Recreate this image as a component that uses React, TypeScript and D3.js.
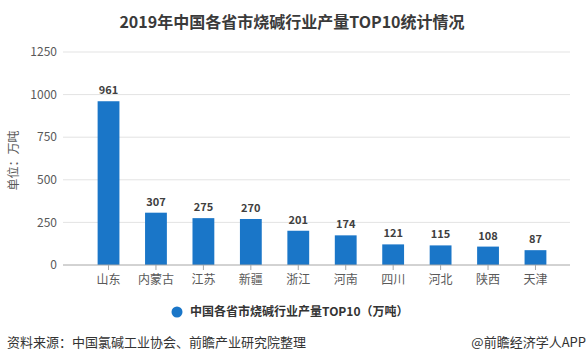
import React, { useEffect, useRef } from "react";
import * as d3 from "d3";

const provinces = ["山东", "内蒙古", "江苏", "新疆", "浙江", "河南", "四川", "河北", "陕西", "天津"];
const output = [961, 307, 275, 270, 201, 174, 121, 115, 108, 87];
const yTicks = [0, 250, 500, 750, 1000, 1250];

const title = "2019年中国各省市烧碱行业产量TOP10统计情况";
const seriesName = "中国各省市烧碱行业产量TOP10（万吨）";
const unitLabel = "单位：万吨";
const sourceText = "资料来源：中国氯碱工业协会、前瞻产业研究院整理";
const brandText = "@前瞻经济学人APP";

function App() {
  const svgRef = useRef<SVGSVGElement>(null);

  useEffect(() => {
    const width = 588;
    const height = 364;
    const font = "'Noto Sans CJK SC', 'Microsoft YaHei', sans-serif";

    const svg = d3.select(svgRef.current);
    svg.selectAll("*").remove();
    svg.attr("width", width).attr("height", height).style("font-family", font);

    svg.append("rect").attr("width", width).attr("height", height).attr("fill", "#fff");

    // scales
    const xScale = d3.scaleBand<string>().domain(provinces).range([72, 572]).padding(0.54);
    const yScale = d3.scaleLinear().domain([0, 1250]).range([265, 52]);

    // gridlines
    svg
      .append("g")
      .selectAll("line")
      .data(yTicks.filter((t) => t > 0))
      .join("line")
      .attr("x1", 63)
      .attr("x2", 570)
      .attr("y1", (d) => yScale(d))
      .attr("y2", (d) => yScale(d))
      .attr("stroke", "#e3e3e3")
      .attr("stroke-width", 1);

    // y tick labels
    svg
      .append("g")
      .selectAll("text")
      .data(yTicks)
      .join("text")
      .attr("x", 57)
      .attr("y", (d) => yScale(d))
      .attr("dy", "0.35em")
      .attr("text-anchor", "end")
      .attr("font-size", 12)
      .attr("fill", "#595959")
      .text((d) => d);

    // unit label
    svg
      .append("text")
      .attr("transform", `translate(18, ${yScale(625) + 2}) rotate(-90)`)
      .attr("text-anchor", "middle")
      .attr("font-size", 12)
      .attr("fill", "#595959")
      .text(unitLabel);

    // bars
    svg
      .append("g")
      .selectAll("rect")
      .data(output)
      .join("rect")
      .attr("x", (_, i) => xScale(provinces[i])!)
      .attr("y", (d) => yScale(d))
      .attr("width", xScale.bandwidth())
      .attr("height", (d) => yScale(0) - yScale(d))
      .attr("fill", "#1a76c8");

    // x axis
    const xAxis = svg.append("g").attr("transform", `translate(0, ${yScale(0)})`);
    xAxis
      .append("line")
      .attr("x1", 63)
      .attr("x2", 570)
      .attr("stroke", "#a6a6a6");
    xAxis
      .selectAll("line.tick")
      .data(provinces)
      .join("line")
      .attr("class", "tick")
      .attr("x1", (d) => xScale(d)! + xScale.bandwidth() / 2)
      .attr("x2", (d) => xScale(d)! + xScale.bandwidth() / 2)
      .attr("y1", 0)
      .attr("y2", 5)
      .attr("stroke", "#a6a6a6");
    xAxis
      .selectAll("text")
      .data(provinces)
      .join("text")
      .attr("x", (d) => xScale(d)! + xScale.bandwidth() / 2)
      .attr("y", 19)
      .attr("text-anchor", "middle")
      .attr("font-size", 12)
      .attr("fill", "#595959")
      .text((d) => d);

    // value labels
    svg
      .append("g")
      .selectAll("text")
      .data(output)
      .join("text")
      .attr("x", (_, i) => xScale(provinces[i])! + xScale.bandwidth() / 2)
      .attr("y", (d) => yScale(d) - 7)
      .attr("text-anchor", "middle")
      .attr("font-size", 11)
      .attr("font-weight", "bold")
      .attr("fill", "#404040")
      .text((d) => d);

    // title
    svg
      .append("text")
      .attr("x", 292)
      .attr("y", 28)
      .attr("text-anchor", "middle")
      .attr("font-size", 16)
      .attr("font-weight", "bold")
      .attr("fill", "#3a3a3a")
      .text(title);

    // legend
    svg.append("circle").attr("cx", 177).attr("cy", 312).attr("r", 5.5).attr("fill", "#1a76c8");
    svg
      .append("text")
      .attr("x", 190)
      .attr("y", 312)
      .attr("dy", "0.35em")
      .attr("font-size", 12)
      .attr("font-weight", "bold")
      .attr("fill", "#333")
      .text(seriesName);

    // footer
    svg
      .append("text")
      .attr("x", 7)
      .attr("y", 347)
      .attr("font-size", 13)
      .attr("fill", "#333")
      .text(sourceText);
    svg
      .append("text")
      .attr("x", 586)
      .attr("y", 347)
      .attr("text-anchor", "end")
      .attr("font-size", 13)
      .attr("fill", "#333")
      .text(brandText);
  }, []);

  return <svg ref={svgRef} style={{ position: "absolute", left: 0, top: 0 }} />;
}

export default App;
